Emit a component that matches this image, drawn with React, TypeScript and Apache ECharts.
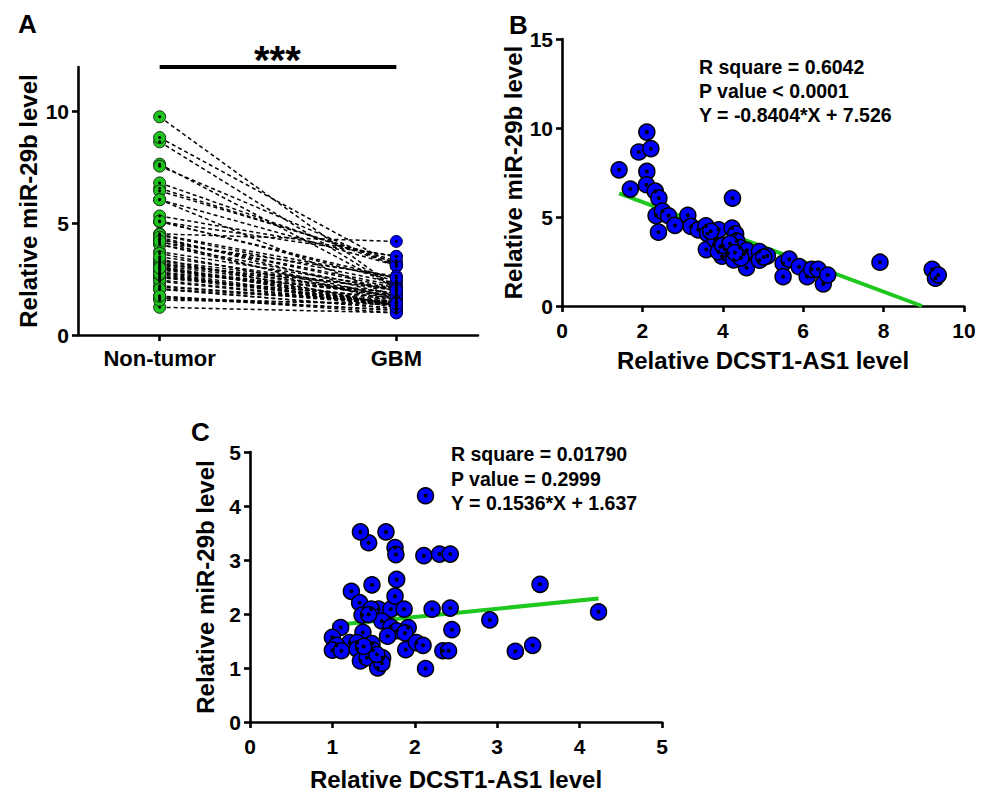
import React, { useEffect, useRef } from "react";
import * as echarts from "echarts";

// ---- Panel A groups ----
const groups = ["Non-tumor", "GBM"];

// ---- Panel B: non-tumor samples (x = DCST1-AS1, y = miR-29b) ----
const dcstNonTumor = [
  1.42, 1.70, 1.91, 2.11, 2.21, 2.11, 2.10, 2.32, 2.41, 2.34,
  2.50, 2.65, 2.40, 2.81, 3.13, 3.21, 3.39, 3.58, 3.62, 3.59,
  3.81, 3.90, 3.94, 3.98, 4.05, 4.13, 4.24, 4.23, 4.32, 4.35,
  4.27, 4.43, 4.53, 4.60, 4.59, 4.91, 4.91, 5.11, 5.50, 5.50,
  5.65, 5.90, 6.10, 6.21, 6.37, 6.50, 6.61, 7.91, 9.21, 9.29,
  9.36, 3.89, 4.00, 4.45, 3.70, 4.18, 5.02, 4.30,
];
const mirNonTumor = [
  7.65, 6.57, 8.65, 9.77, 8.84, 7.56, 6.81, 6.45, 6.06, 5.08,
  5.33, 5.07, 4.15, 4.53, 5.10, 4.47, 4.28, 4.50, 4.06, 3.17,
  3.73, 4.28, 3.33, 2.80, 3.19, 2.96, 6.06, 4.38, 4.05, 3.65,
  2.59, 3.28, 2.92, 3.13, 2.15, 3.06, 2.57, 2.82, 2.40, 1.65,
  2.63, 2.21, 1.65, 2.06, 2.06, 1.24, 1.74, 2.46, 2.06, 1.56,
  1.74, 3.05, 3.40, 2.70, 4.20, 3.50, 2.75, 3.00,
];

// ---- Panel C: GBM samples (same patient order) ----
const dcstGBM = [
  1.56, 1.76, 1.71, 2.21, 1.77, 2.11, 2.30, 1.44, 2.43, 1.34,
  1.65, 1.48, 1.78, 2.13, 1.23, 1.76, 1.33, 3.52, 1.36, 1.47,
  1.87, 2.43, 4.23, 2.91, 1.60, 1.71, 1.78, 1.92, 1.88, 1.67,
  1.37, 1.10, 1.00, 2.45, 1.21, 1.30, 1.05, 1.00, 1.11, 1.30,
  1.48, 1.49, 1.34, 1.42, 1.61, 1.55, 1.60, 1.89, 2.02, 2.10,
  2.13, 2.34, 2.41, 3.22, 3.43, 1.44, 1.54, 1.38,
];
const mirGBM = [
  2.09, 3.23, 2.09, 2.09, 3.10, 3.08, 3.11, 3.32, 3.11, 3.52,
  3.52, 2.54, 2.64, 4.19, 2.42, 2.33, 2.21, 2.55, 1.98, 2.09,
  2.09, 2.11, 2.04, 1.89, 1.87, 1.76, 1.69, 1.75, 1.65, 1.59,
  1.66, 1.75, 1.57, 1.71, 1.47, 1.47, 1.42, 1.33, 1.32, 1.35,
  1.45, 1.33, 1.13, 1.19, 1.19, 1.00, 1.09, 1.34, 1.47, 1.42,
  0.99, 1.32, 1.32, 1.31, 1.42, 1.99, 1.25, 1.40,
];

// ---- Regression fits (as reported in the figure) ----
const fitB = { slope: -0.8404, intercept: 7.526 };
const fitC = { slope: 0.1536, intercept: 1.637 };
const statsB = ["R square = 0.6042", "P value < 0.0001", "Y = -0.8404*X + 7.526"];
const statsC = ["R square = 0.01790", "P value = 0.2999", "Y = 0.1536*X + 1.637"];

const yTicksA = [0, 5, 10];

const FONT = "'Liberation Sans', Arial, sans-serif";
const BLUE = "#0000ff";
const GREEN_M = "#1fc41f";
const GREEN_L = "#1ec81e";

function axisCommon() {
  return {
    axisLine: { show: true, onZero: false, lineStyle: { color: "#000", width: 2.6 } },
    axisTick: { show: true, length: 6, lineStyle: { color: "#000", width: 2.6 } },
    axisLabel: { color: "#000", fontSize: 21, fontWeight: "bold", fontFamily: FONT },
    splitLine: { show: false },
    nameTextStyle: { color: "#000", fontSize: 24, fontWeight: "bold", fontFamily: FONT },
    nameLocation: "middle",
  };
}

export default function App() {
  const ref = useRef<HTMLDivElement>(null);
  useEffect(() => {
    if (!ref.current) return;
    const chart = echarts.init(ref.current, undefined, { renderer: "svg" });

    const ptsB = dcstNonTumor.map((x, i) => [x, mirNonTumor[i]]);
    const ptsC = dcstGBM.map((x, i) => [x, mirGBM[i]]);
    const minBx = Math.min(...dcstNonTumor);
    const zeroBx = -fitB.intercept / fitB.slope;
    const minCx = Math.min(...dcstGBM);
    const maxCx = Math.max(...dcstGBM);
    const lineB = [
      [minBx, fitB.slope * minBx + fitB.intercept],
      [zeroBx, 0],
    ];
    const lineC = [
      [minCx, fitC.slope * minCx + fitC.intercept],
      [maxCx, fitC.slope * maxCx + fitC.intercept],
    ];
    const pairLines = mirNonTumor.map((v, i) => ({ coords: [[0, v], [1, mirGBM[i]]] }));
    const ntPts = mirNonTumor.map((v) => [0, v]);
    const gbmPts = mirGBM.map((v) => [1, v]);

    const c = axisCommon();
    const statText = (lines: string[], x: number, y: number, gap: number) =>
      lines.map((t, i) => ({
        type: "text",
        left: x,
        top: y + i * gap,
        style: { text: t, fill: "#000", font: `bold 19.5px ${FONT}` },
      }));

    chart.setOption({
      animation: false,
      grid: [
        { left: 78, top: 67, width: 400, height: 268 },
        { left: 562, top: 39, width: 402, height: 267 },
        { left: 250, top: 452, width: 412, height: 273 },
      ],
      xAxis: [
        {
          ...c,
          gridIndex: 0,
          type: "value",
          min: -0.345,
          max: 1.345,
          axisTick: { ...c.axisTick, customValues: [0, 1] },
          axisLabel: {
            ...c.axisLabel,
            fontSize: 22,
            margin: 12,
            customValues: [0, 1],
            formatter: (v: number) => groups[Math.round(v)] ?? "",
          },
        },
        {
          ...c,
          gridIndex: 1,
          type: "value",
          min: 0,
          max: 10,
          interval: 2,
          name: "Relative DCST1-AS1 level",
          nameGap: 42,
          axisLabel: { ...c.axisLabel, margin: 14 },
        },
        {
          ...c,
          gridIndex: 2,
          type: "value",
          min: 0,
          max: 5,
          interval: 1,
          name: "Relative DCST1-AS1 level",
          nameGap: 45,
          axisLabel: { ...c.axisLabel, margin: 14 },
        },
      ],
      yAxis: [
        {
          ...c,
          gridIndex: 0,
          type: "value",
          min: 0,
          max: 12,
          name: "Relative miR-29b level",
          nameGap: 38,
          axisTick: { ...c.axisTick, customValues: yTicksA },
          axisLabel: { ...c.axisLabel, margin: 9, customValues: yTicksA },
        },
        {
          ...c,
          gridIndex: 1,
          type: "value",
          min: 0,
          max: 15,
          interval: 5,
          name: "Relative miR-29b level",
          nameGap: 36,
          axisLabel: { ...c.axisLabel, margin: 9 },
        },
        {
          ...c,
          gridIndex: 2,
          type: "value",
          min: 0,
          max: 5,
          interval: 1,
          name: "Relative miR-29b level",
          nameGap: 33,
          axisLabel: { ...c.axisLabel, margin: 9 },
        },
      ],
      series: [
        {
          type: "lines",
          coordinateSystem: "cartesian2d",
          xAxisIndex: 0,
          yAxisIndex: 0,
          data: pairLines,
          lineStyle: { color: "#000", width: 1.5, type: [4, 3], opacity: 1 },
          z: 1,
          silent: true,
          markLine: {
            symbol: "none",
            silent: true,
            label: { show: false },
            lineStyle: { color: "#000", width: 4, type: "solid" },
            data: [[{ coord: [0, 12] }, { coord: [1, 12] }]],
          },
        },
        {
          type: "scatter",
          xAxisIndex: 0,
          yAxisIndex: 0,
          data: ntPts,
          symbolSize: 12,
          itemStyle: { color: GREEN_M, borderColor: "#143014", borderWidth: 1, opacity: 1 },
          z: 3,
        },
        {
          type: "scatter",
          xAxisIndex: 0,
          yAxisIndex: 0,
          data: gbmPts,
          symbolSize: 12,
          itemStyle: { color: BLUE, borderColor: "#000030", borderWidth: 1, opacity: 1 },
          z: 3,
        },
        {
          type: "scatter",
          xAxisIndex: 0,
          yAxisIndex: 0,
          data: [...ntPts, ...gbmPts],
          symbolSize: 3,
          itemStyle: { color: "#000", opacity: 1 },
          z: 4,
        },
        {
          type: "scatter",
          xAxisIndex: 1,
          yAxisIndex: 1,
          data: ptsB,
          symbolSize: 16,
          itemStyle: { color: BLUE, borderColor: "#000", borderWidth: 1.5, opacity: 1 },
          z: 3,
        },
        {
          type: "scatter",
          xAxisIndex: 1,
          yAxisIndex: 1,
          data: ptsB,
          symbolSize: 4,
          itemStyle: { color: "#000", opacity: 1 },
          z: 4,
        },
        {
          type: "line",
          xAxisIndex: 1,
          yAxisIndex: 1,
          data: lineB,
          symbol: "none",
          lineStyle: { color: GREEN_L, width: 4 },
          z: 2,
        },
        {
          type: "scatter",
          xAxisIndex: 2,
          yAxisIndex: 2,
          data: ptsC,
          symbolSize: 16,
          itemStyle: { color: BLUE, borderColor: "#000", borderWidth: 1.5, opacity: 1 },
          z: 3,
        },
        {
          type: "scatter",
          xAxisIndex: 2,
          yAxisIndex: 2,
          data: ptsC,
          symbolSize: 4,
          itemStyle: { color: "#000", opacity: 1 },
          z: 4,
        },
        {
          type: "line",
          xAxisIndex: 2,
          yAxisIndex: 2,
          data: lineC,
          symbol: "none",
          lineStyle: { color: GREEN_L, width: 4 },
          z: 2,
        },
      ],
      graphic: [
        { type: "text", left: 18, top: 11, style: { text: "A", fill: "#000", font: `bold 26px ${FONT}` } },
        { type: "text", left: 509, top: 12, style: { text: "B", fill: "#000", font: `bold 26px ${FONT}` } },
        { type: "text", left: 191, top: 419, style: { text: "C", fill: "#000", font: `bold 26px ${FONT}` } },
        { type: "text", left: 254, top: 40, style: { text: "***", fill: "#000", font: `bold 40px ${FONT}` } },
        ...statText(statsB, 699, 57, 24),
        ...statText(statsC, 451, 444, 24.5),
      ],
    });
    return () => chart.dispose();
  }, []);
  return (
    <div
      ref={ref}
      style={{ position: "fixed", left: 0, top: 0, width: 987, height: 792, background: "#fff" }}
    />
  );
}
